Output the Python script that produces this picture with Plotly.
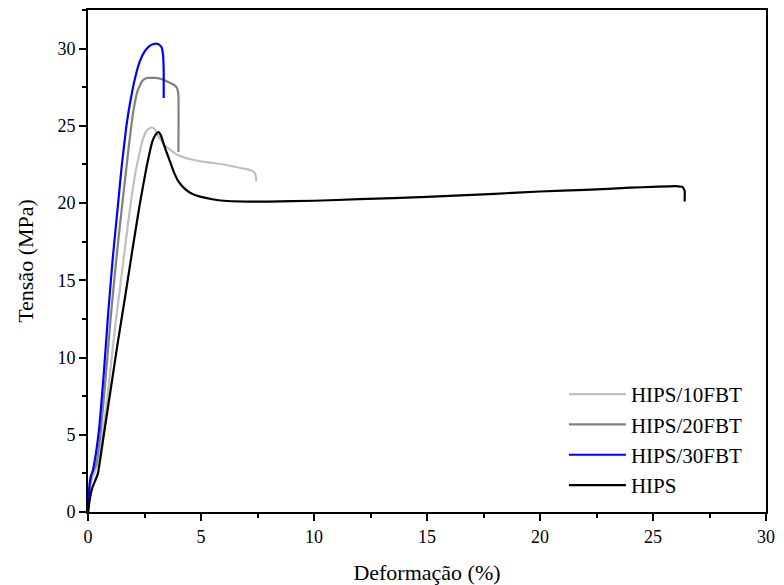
import plotly.graph_objects as go

# HIPS/10FBT
x10 = [0, 0.1, 0.25, 0.4, 0.6, 0.9, 1.2, 1.5, 1.8, 2.1, 2.4, 2.6, 2.8, 2.95, 3.1, 3.3, 3.6, 4.0, 4.5, 5.0, 5.5, 6.0, 6.5, 7.0, 7.25, 7.4, 7.45]
y10 = [0, 1.8, 2.4, 3.0, 4.5, 8.0, 12.0, 15.5, 19.0, 22.0, 24.0, 24.7, 24.9, 24.8, 24.4, 23.9, 23.5, 23.1, 22.85, 22.7, 22.6, 22.5, 22.35, 22.2, 22.1, 21.9, 21.4]

# HIPS/20FBT
x20 = [0, 0.1, 0.2, 0.35, 0.55, 0.8, 1.0, 1.2, 1.4, 1.6, 1.8, 2.0, 2.2, 2.4, 2.6, 2.8, 3.0, 3.3, 3.6, 3.85, 3.95, 4.0, 4.0]
y20 = [0, 1.8, 2.6, 3.0, 5.0, 9.0, 12.5, 15.6, 18.4, 21.0, 23.6, 25.9, 27.3, 27.9, 28.1, 28.1, 28.1, 28.0, 27.8, 27.6, 27.4, 27.0, 23.3]

# HIPS/30FBT
x30 = [0, 0.05, 0.12, 0.2, 0.35, 0.5, 0.7, 0.9, 1.1, 1.3, 1.5, 1.7, 1.9, 2.1, 2.3, 2.5, 2.7, 2.9, 3.1, 3.25, 3.32, 3.35, 3.35]
y30 = [0, 1.5, 2.3, 2.6, 3.8, 5.5, 9.0, 13.0, 16.5, 19.5, 22.5, 25.0, 26.8, 28.2, 29.2, 29.8, 30.15, 30.3, 30.3, 30.1, 29.6, 28.5, 26.8]

# HIPS
xh = [0, 0.1, 0.2, 0.31, 0.44, 0.7, 1.0, 1.3, 1.65, 2.0, 2.3, 2.6, 2.85, 3.0, 3.12, 3.22, 3.4, 3.6, 3.8, 4.0, 4.3, 4.6, 5.0, 5.5, 6, 7, 8, 10, 12, 15, 18, 20, 22, 24, 25, 26, 26.3, 26.4, 26.4]
yh = [0, 1.0, 1.6, 2.0, 2.5, 5.0, 7.9, 10.8, 14.0, 17.3, 20.0, 22.4, 24.0, 24.45, 24.6, 24.4, 23.6, 22.8, 22.0, 21.4, 20.9, 20.6, 20.4, 20.25, 20.15, 20.1, 20.1, 20.15, 20.25, 20.4, 20.6, 20.75, 20.85, 21.0, 21.05, 21.1, 21.05, 20.8, 20.1]

series = [
    ("HIPS/10FBT", x10, y10, "#c0c0c0"),
    ("HIPS/20FBT", x20, y20, "#808080"),
    ("HIPS/30FBT", x30, y30, "#0000ff"),
    ("HIPS", xh, yh, "#000000"),
]

fig = go.Figure()
for name, xs, ys, col in series:
    fig.add_trace(go.Scatter(x=xs, y=ys, name=name, mode="lines",
                             line=dict(color=col, width=2.2, shape="spline", smoothing=0.4)))

FONT = "Liberation Serif"
tickf = dict(family=FONT, size=18, color="black")
titlef = dict(family=FONT, size=22, color="black")
minor = dict(ticks="outside", dtick=2.5, ticklen=4, tickwidth=2, tickcolor="black")

fig.update_layout(
    width=776, height=577,
    margin=dict(l=80, r=18, t=2, b=73, autoexpand=False),
    plot_bgcolor="white", paper_bgcolor="white",
    font=dict(family=FONT, size=18, color="black"),
    xaxis=dict(range=[0, 30], dtick=5, showline=True, linecolor="black", linewidth=2, mirror=True,
               ticks="outside", ticklen=7, tickwidth=2, tickcolor="black", showgrid=False, zeroline=False,
               tickfont=tickf, minor=minor,
               title=dict(text="Deformação (%)", font=titlef, standoff=20)),
    yaxis=dict(range=[0, 32.5], dtick=5, showline=True, linecolor="black", linewidth=2, mirror=True,
               ticks="outside", ticklen=7, tickwidth=2, tickcolor="black", showgrid=False, zeroline=False,
               tickfont=tickf, minor=minor,
               title=dict(text="Tensão (MPa)", font=titlef, standoff=18)),
    legend=dict(x=0.702, y=0.012, xanchor="left", yanchor="bottom", bgcolor="rgba(0,0,0,0)",
                font=dict(family=FONT, size=21, color="black"), itemwidth=57, tracegroupgap=0),
)

fig.write_html("out.html")
